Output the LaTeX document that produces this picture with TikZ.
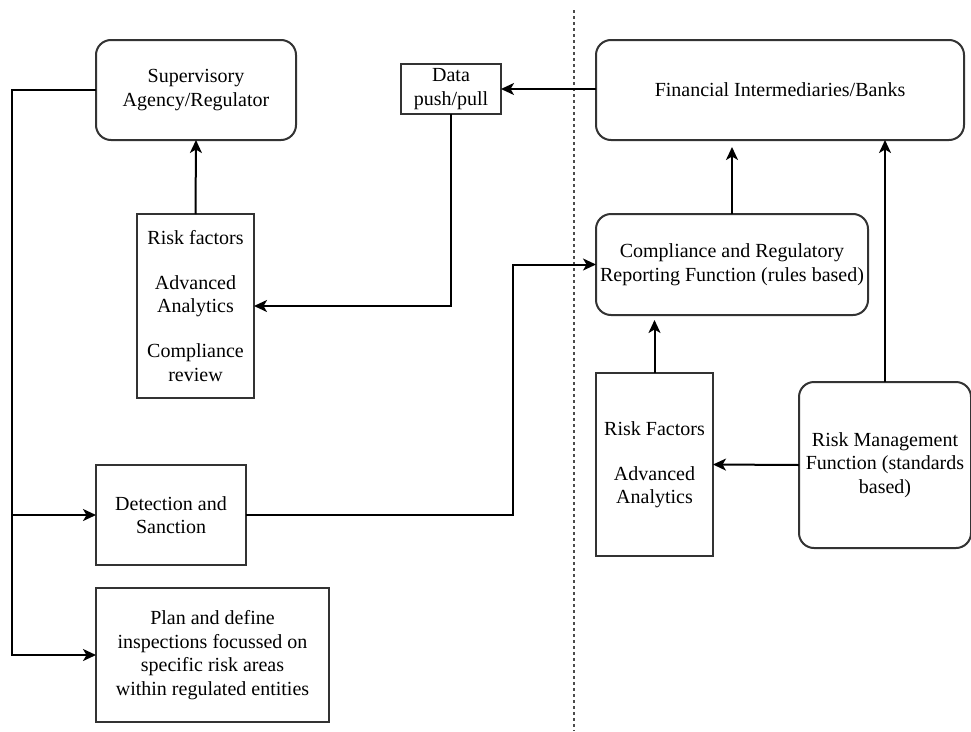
\documentclass[tikz,border=0pt]{standalone}
\usepackage{fontspec}
\setmainfont{Liberation Serif}
\usetikzlibrary{arrows.meta}
\begin{document}
\begin{tikzpicture}[x=1pt,y=-1pt,
  box/.style={draw=black!80,line width=2pt,fill=white,align=center,
    inner sep=0pt,outer sep=0pt,font=\fontsize{20}{23.5}\selectfont},
  rbox/.style={box,rounded corners=15pt},
  conn/.style={draw=black,line width=2pt,
    -{Stealth[length=13pt,width=12pt,inset=3.5pt]}}]
\useasboundingbox (0,0) rectangle (971,731);

% column divider
\draw[black!70,line width=2.2pt,dash pattern=on 3pt off 3pt] (574,10) -- (574,731);

% supervisor side
\node[rbox,minimum width=200pt,minimum height=100pt] (sup) at (196,90)
  {Supervisory\\Agency/Regulator};
\node[box,minimum width=100pt,minimum height=50pt] (data) at (451,89)
  {Data\\push/pull};
\node[box,minimum width=117pt,minimum height=184pt] (risk) at (195.5,306)
  {Risk factors\\[21.5pt]Advanced\\Analytics\\[21.5pt]Compliance\\review};
\node[box,minimum width=150pt,minimum height=100pt] (det) at (171,515)
  {Detection and\\Sanction};
\node[box,minimum width=233pt,minimum height=134pt] (plan) at (212.5,655)
  {Plan and define\\inspections focussed on\\specific risk areas\\within regulated entities};

% institution side
\node[rbox,minimum width=368pt,minimum height=100pt] (fin) at (780,90)
  {Financial Intermediaries/Banks};
\node[rbox,minimum width=272pt,minimum height=101pt] (comp) at (732,264.5)
  {Compliance and Regulatory\\Reporting Function (rules based)};
\node[box,minimum width=117pt,minimum height=183pt] (rf) at (654.5,464.5)
  {Risk Factors\\[21.5pt]Advanced\\Analytics};
\node[rbox,minimum width=172pt,minimum height=166pt] (rm) at (885,465)
  {Risk Management\\Function (standards\\based)};

% routing points
\coordinate (bus) at (12,90);
\coordinate (jog) at (513,0);

% regulator fan-out
\draw[conn] (sup.west) -- (bus) |- (det.west);
\draw[conn] (bus) |- (plan.west);
\draw[conn] (risk.north) -- (sup.south);

% data exchange
\draw[conn] (fin.west |- data.east) -- (data.east);
\draw[conn] (data.south) |- (risk.east);

% detection feeds compliance
\draw[conn] (det.east) -- (det.east -| jog) |- (comp.west);

% bank internal flows
\draw[conn,shorten >=7pt] (comp.north) -- (comp.north |- fin.south);
\draw[conn,shorten >=5pt] (rf.north) -- (rf.north |- comp.south);
\draw[conn] (rm.west) -- (rf.east);
\draw[conn] (rm.north) -- (rm.north |- fin.south);
\end{tikzpicture}
\end{document}
